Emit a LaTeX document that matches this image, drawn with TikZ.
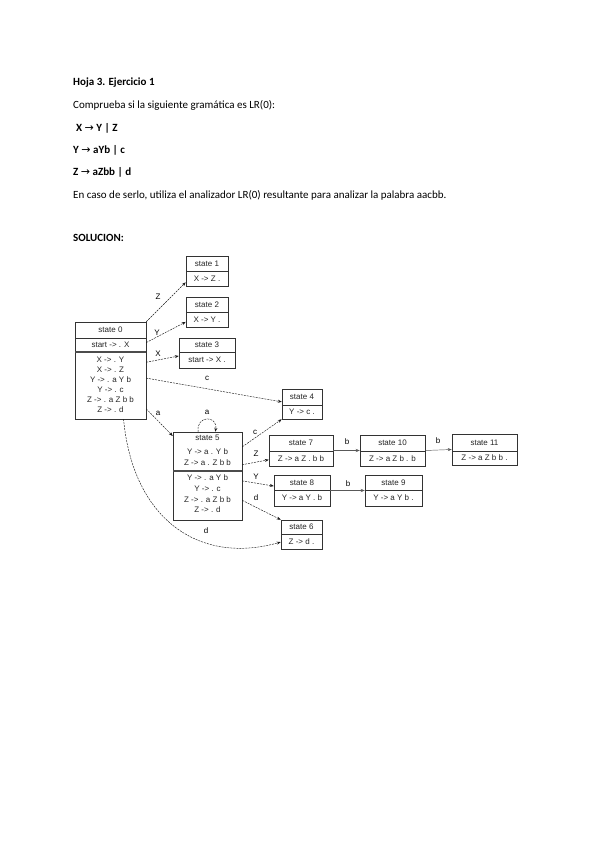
\documentclass[tikz,border=0pt]{standalone}
\usepackage{fontspec}
\setmainfont{Carlito}
\newfontfamily\graphfont{Liberation Sans}
\newfontfamily\arrowfont{DejaVu Sans}
\usetikzlibrary{arrows.meta}

% box of one LR(0) state: name, left, top, right, bottom, separator
\newcommand{\lrstate}[6]{%
  \node[statebox, minimum width={#4-#2}, minimum height={#5-#3}] (#1) at ({(#2+#4)/2},{(#3+#5)/2}) {};
  \draw[statebox] (#2,#6) -- (#4,#6);
}

\begin{document}
\begin{tikzpicture}[
    x=1pt, y=-1pt, % pixel-like coordinates, y downwards
    >={Stealth[length=4pt,width=3pt]}, % arrow tips
    statebox/.style={draw=black!80, line width=0.5pt, inner sep=0pt}, % state boxes
    item/.style={font=\graphfont\fontsize{8}{10}\selectfont, inner sep=0pt, text=black!85}, % items in a state
    edge/.style={->, dash pattern=on 2pt off 1pt, line width=0.45pt, black!90}, % transitions
    bedge/.style={->, line width=0.45pt, black!65}, % shifts of b
    elabel/.style={font=\graphfont\fontsize{8}{9}\selectfont, inner sep=0pt}, % transition labels
    doc/.style={anchor=west, inner sep=0pt, font=\fontsize{11}{13}\selectfont}, % page text
    docb/.style={doc, font=\fontsize{11}{13}\selectfont\bfseries} % bold page text
  ]

  % --- Page ---
  \fill[white] (0,0) rectangle (599,848);
  \useasboundingbox (0,0) rectangle (599,848);

  % --- Statement ---
  \node[docb] (title) at (73,83) {Hoja 3. Ejercicio 1};
  \node[doc] (ask) at (73,105) {Comprueba si la siguiente gramática es LR(0):};
  \node[docb] (ruleX) at (76,128) {X {\arrowfont\mdseries →} Y | Z};
  \node[docb] (ruleY) at (73,150) {Y {\arrowfont\mdseries →} aYb | c};
  \node[docb] (ruleZ) at (73,172) {Z {\arrowfont\mdseries →} aZbb | d};
  \node[doc] (task) at (73,195) {En caso de serlo, utiliza el analizador LR(0) resultante para analizar la palabra aacbb.};
  \node[docb] (sol) at (73,238) {SOLUCION:};

  % --- State boxes ---
  \lrstate{s0}{75}{322}{146}{419}{338}
  \draw[black!70, line width=1.6pt] (75,352) -- (146,352); % kernel / closure
  \lrstate{s1}{186}{256}{228}{286}{271}
  \lrstate{s2}{186}{297}{228}{327}{312}
  \lrstate{s3}{179}{338}{235}{368}{352}
  \lrstate{s4}{282}{389}{322}{419}{405}
  \node[statebox, minimum width=69, minimum height=88] (s5) at (207.5,476) {};
  \draw[black!70, line width=1.6pt] (173,471) -- (242,471); % kernel / closure
  \lrstate{s6}{281}{520}{322}{549}{534}
  \lrstate{s7}{269}{435}{333}{466}{451}
  \lrstate{s8}{274}{475}{330}{506}{490}
  \lrstate{s9}{365}{475}{422}{506}{490}
  \lrstate{s10}{360}{435}{425}{466}{451}
  \lrstate{s11}{452}{434}{517}{465}{451}

  % --- Items ---
  \node[item] (s0t) at (110.5,330) {state 0};
  \node[item] (s0k) at (110.5,345) {start -> . X};
  \foreach \txt [count=\i] in {X -> . Y, X -> . Z, Y -> . a Y b, Y -> . c, Z -> . a Z b b, Z -> . d}
    \node[item] (s0c\i) at (110.5,{350+10*\i}) {\txt};
  \node[item] (s1t) at (207,263.5) {state 1};
  \node[item] (s1b) at (207,278.5) {X -> Z .};
  \node[item] (s2t) at (207,304.5) {state 2};
  \node[item] (s2b) at (207,319.5) {X -> Y .};
  \node[item] (s3t) at (207,345) {state 3};
  \node[item] (s3b) at (207,360) {start -> X .};
  \node[item] (s4t) at (302,397) {state 4};
  \node[item] (s4b) at (302,412) {Y -> c .};
  \node[item] (s5t) at (207.5,438) {state 5};
  \node[item] (s5k1) at (207.5,452) {Y -> a . Y b};
  \node[item] (s5k2) at (207.5,463) {Z -> a . Z b b};
  \foreach \txt [count=\i] in {Y -> . a Y b, Y -> . c, Z -> . a Z b b, Z -> . d}
    \node[item] (s5c\i) at (207.5,{467.5+10.6*\i}) {\txt};
  \node[item] (s6t) at (301.5,527) {state 6};
  \node[item] (s6b) at (301.5,541.5) {Z -> d .};
  \node[item] (s7t) at (301,443) {state 7};
  \node[item] (s7b) at (301,458.5) {Z -> a Z . b b};
  \node[item] (s8t) at (302,482.5) {state 8};
  \node[item] (s8b) at (302,498) {Y -> a Y . b};
  \node[item] (s9t) at (393.5,482.5) {state 9};
  \node[item] (s9b) at (393.5,498) {Y -> a Y b .};
  \node[item] (s10t) at (392.5,443) {state 10};
  \node[item] (s10b) at (392.5,458.5) {Z -> a Z b . b};
  \node[item] (s11t) at (484.5,442.5) {state 11};
  \node[item] (s11b) at (484.5,458) {Z -> a Z b b .};

  % --- Transitions out of state 0 ---
  \draw[edge] (s0.north east) -- (s1.208);
  \node[elabel] (lZ0) at (158,297) {Z};
  \draw[edge] (s0.38) -- (s2.205);
  \node[elabel] (lY0) at (157,333) {Y};
  \draw[edge] (s0.13) -- (s3.186);
  \node[elabel] (lX0) at (158,354) {X};
  \draw[edge] (s0.-12) -- (s4.174);
  \node[elabel] (lc0) at (207,378) {c};
  \draw[edge] (s0.-47) -- (s5.131);
  \node[elabel] (la0) at (158,413) {a};
  \draw[edge] (s0.-75) .. controls (133,520) and (200,565) .. (s6.200);
  \node[elabel] (ld0) at (206,531) {d};

  % --- Transitions out of state 5 ---
  \draw[edge] (s5.102) .. controls (196,415) and (218,415) .. (s5.80); % loop on a
  \node[elabel] (la5) at (207,412) {a};
  \draw[edge] (s5.40) -- (s4.south west);
  \node[elabel] (lc5) at (255,432) {c};
  \draw[edge] (s5.18) -- (s7.196);
  \node[elabel] (lZ5) at (256,454) {Z};
  \draw[edge] (s5.-8) -- (s8.171);
  \node[elabel] (lY5) at (256,477) {Y};
  \draw[edge] (s5.-35) -- (s6.north west);
  \node[elabel] (ld5) at (256,498) {d};

  % --- Shifts of b ---
  \draw[bedge] (s7.east) -- (s10.west);
  \node[elabel] (lb7) at (347,442) {b};
  \draw[bedge] (s10.east) -- (s11.west);
  \node[elabel] (lb10) at (438,441) {b};
  \draw[bedge] (s8.east) -- (s9.west);
  \node[elabel] (lb8) at (348,484) {b};

\end{tikzpicture}
\end{document}
